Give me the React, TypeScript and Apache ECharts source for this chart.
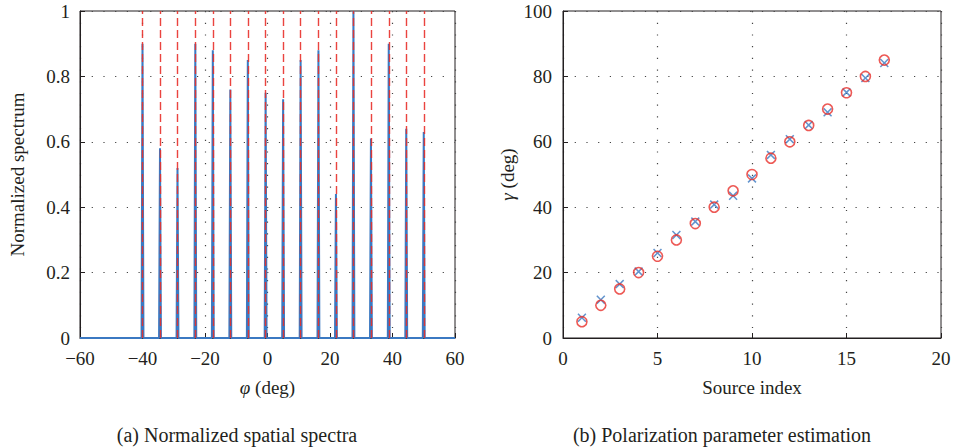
import React, { useEffect, useRef } from "react";
import * as echarts from "echarts";

// Left panel: source directions (deg) and normalized peak heights
const sourceAngles = [-40, -34.4, -28.8, -23.1, -17.5, -11.9, -6.3, -0.6, 5, 10.6, 16.3, 21.9, 27.5, 33.1, 38.8, 44.4, 50];
const peakHeights = [0.9, 0.58, 0.52, 0.9, 0.88, 0.76, 0.85, 0.75, 0.73, 0.85, 0.88, 0.44, 1.0, 0.61, 0.9, 0.64, 0.63];
const spectrumRange = [-60, 60];

// Right panel: polarization parameter gamma
const sourceIndex = [1, 2, 3, 4, 5, 6, 7, 8, 9, 10, 11, 12, 13, 14, 15, 16, 17];
const trueGamma = [5, 10, 15, 20, 25, 30, 35, 40, 45, 50, 55, 60, 65, 70, 75, 80, 85];
const estGamma = [6.2, 11.7, 16.5, 20.3, 26.0, 31.5, 35.6, 40.8, 43.5, 48.8, 56.0, 60.8, 65.1, 69.0, 75.1, 79.5, 84.1];

const FONT = "'Liberation Serif', 'DejaVu Serif', serif";
const INK = "#231f20";
const BLUE = "#3b79c2";
const RED = "#e8302a";

const X_PATH =
  "path://M0,0.12 L0.12,0 L0.5,0.38 L0.88,0 L1,0.12 L0.62,0.5 L1,0.88 L0.88,1 L0.5,0.62 L0.12,1 L0,0.88 L0.38,0.5 Z";

function minusFmt(v: number) {
  return v < 0 ? "\u2212" + Math.abs(v) : String(v);
}

export default function App() {
  const ref = useRef<HTMLDivElement>(null);

  useEffect(() => {
    if (!ref.current) return;
    const chart = echarts.init(ref.current, null, { renderer: "svg" });

    const spectrum: number[][] = [[spectrumRange[0], 0]];
    const halfW = 0.3;
    sourceAngles.forEach((a, i) => {
      spectrum.push([a - halfW, 0], [a, peakHeights[i]], [a + halfW, 0]);
    });
    spectrum.push([spectrumRange[1], 0]);

    const dotted = { color: "#444", width: 1.2, type: [1.2, 10.5] as any };
    const axisLine = { show: true, onZero: false, lineStyle: { color: INK, width: 1 } };
    const tick = { show: true, inside: true, length: 5, lineStyle: { color: INK } };
    const label = { color: INK, fontFamily: FONT, fontSize: 19 };
    const NS = 19;
    const nameStyle = {
      color: INK,
      fontFamily: FONT,
      fontSize: NS,
      rich: {
        i: { fontStyle: "italic", fontFamily: FONT, fontSize: NS, color: INK },
        n: { fontFamily: FONT, fontSize: NS, color: INK },
      },
    };

    chart.setOption({
      animation: false,
      grid: [
        { left: 80, top: 11, width: 375, height: 327, show: true, borderColor: INK, borderWidth: 1, backgroundColor: "transparent" },
        { left: 563, top: 11, width: 378, height: 327, show: true, borderColor: INK, borderWidth: 1, backgroundColor: "transparent" },
      ],
      xAxis: [
        {
          gridIndex: 0,
          type: "value",
          min: -60,
          max: 60,
          interval: 20,
          axisLine,
          axisTick: tick,
          axisLabel: { ...label, margin: 11, formatter: minusFmt },
          splitLine: { show: true, lineStyle: dotted },
          name: "{i|φ}{n| (deg)}",
          nameLocation: "middle",
          nameGap: 40,
          nameTextStyle: nameStyle,
        },
        {
          gridIndex: 1,
          type: "value",
          min: 0,
          max: 20,
          interval: 5,
          axisLine,
          axisTick: tick,
          axisLabel: { ...label, margin: 11 },
          splitLine: { show: true, lineStyle: dotted },
          name: "Source index",
          nameLocation: "middle",
          nameGap: 40,
          nameTextStyle: nameStyle,
        },
      ],
      yAxis: [
        {
          gridIndex: 0,
          type: "value",
          min: 0,
          max: 1,
          interval: 0.2,
          axisLine,
          axisTick: tick,
          axisLabel: { ...label, margin: 10 },
          splitLine: { show: true, lineStyle: dotted },
          name: "Normalized spectrum",
          nameLocation: "middle",
          nameGap: 53,
          nameTextStyle: nameStyle,
        },
        {
          gridIndex: 1,
          type: "value",
          min: 0,
          max: 100,
          interval: 20,
          axisLine,
          axisTick: tick,
          axisLabel: { ...label, margin: 11 },
          splitLine: { show: true, lineStyle: dotted },
          name: "{i|γ}{n| (deg)}",
          nameLocation: "middle",
          nameGap: 46,
          nameTextStyle: nameStyle,
        },
      ],
      series: [
        {
          type: "line",
          xAxisIndex: 0,
          yAxisIndex: 0,
          data: spectrum,
          showSymbol: false,
          symbol: "none",
          clip: false,
          lineStyle: { color: BLUE, width: 2 },
          z: 3,
        },
        {
          type: "line",
          xAxisIndex: 0,
          yAxisIndex: 0,
          data: [],
          symbol: "none",
          z: 4,
          markLine: {
            silent: true,
            symbol: "none",
            label: { show: false },
            lineStyle: { color: RED, width: 1.4, type: [8, 4] as any, opacity: 0.9 },
            data: sourceAngles.map((a) => ({ xAxis: a })),
          },
        },
        {
          type: "scatter",
          xAxisIndex: 1,
          yAxisIndex: 1,
          data: sourceIndex.map((s, i) => [s, estGamma[i]]),
          symbol: X_PATH,
          symbolSize: 9,
          itemStyle: { color: BLUE },
          z: 3,
        },
        {
          type: "scatter",
          xAxisIndex: 1,
          yAxisIndex: 1,
          data: sourceIndex.map((s, i) => [s, trueGamma[i]]),
          symbol: "circle",
          symbolSize: 10,
          itemStyle: { color: "transparent", borderColor: RED, borderWidth: 1.6 },
          z: 4,
        },
      ],
      graphic: [
        {
          type: "text",
          x: 237,
          y: 435,
          style: {
            text: "(a) Normalized spatial spectra",
            fontFamily: FONT,
            fontSize: 20,
            fill: INK,
            textAlign: "center",
            textVerticalAlign: "middle",
          },
        },
        {
          type: "text",
          x: 722,
          y: 435,
          style: {
            text: "(b) Polarization parameter estimation",
            fontFamily: FONT,
            fontSize: 20,
            fill: INK,
            textAlign: "center",
            textVerticalAlign: "middle",
          },
        },
      ],
    });

    return () => chart.dispose();
  }, []);

  return (
    <div
      ref={ref}
      style={{ position: "fixed", left: 0, top: 0, width: 956, height: 448, background: "#fff" }}
    />
  );
}
